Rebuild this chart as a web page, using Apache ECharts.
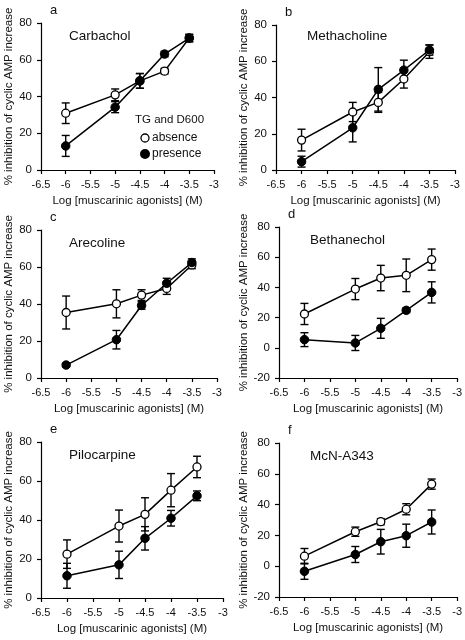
<!DOCTYPE html>
<html>
<head>
<meta charset="utf-8">
<script src="https://cdn.jsdelivr.net/npm/echarts@6/dist/echarts.min.js"></script>
<style>
html,body{margin:0;padding:0;background:#fff;}
#c{width:465px;height:640px;}
</style>
</head>
<body>
<div id="c"></div>
<script>
// ---- Data ----
const doses = [-6, -5, -4.5, -4, -3.5];
const panelLetters = ['a', 'b', 'c', 'd', 'e', 'f'];
const drugNames = ['Carbachol', 'Methacholine', 'Arecoline', 'Bethanechol', 'Pilocarpine', 'McN-A343'];
const xTicks = [-6.5, -6, -5.5, -5, -4.5, -4, -3.5, -3];
const yMins = [0, 0, 0, -20, 0, -20];
const yMax = 80;

const absenceA = [30.9, 40.9, 48.5, 53.8, 71.8];
const absenceErrA = [5.6, 3.2, 4, 1.5, 2];
const presenceA = [13.1, 34.2, 48.5, 63.1, 71.8];
const presenceErrA = [5.7, 3, 4, 1.5, 2];

const absenceB = [16.5, 32, 37.3, 50.2, 65.3];
const absenceErrB = [6, 5.3, 5.5, 5, 3.7];
const presenceB = [4.6, 23.3, 44.5, 55.1, 66.2];
const presenceErrB = [3, 7.8, 12, 5.5, 2.8];

const absenceC = [35.4, 40.1, 44.8, 48.4, 61.1];
const absenceErrC = [8.9, 7.6, 2.9, 3.2, 2];
const presenceC = [7, 20.7, 39.2, 51.2, 62.4];
const presenceErrC = [1, 5, 2, 2.7, 2];

const absenceD = [22.4, 38.9, 46.2, 48, 58.4];
const absenceErrD = [7, 7, 8.4, 10.8, 7];
const presenceD = [5.4, 3.2, 12.9, 24.8, 36.7];
const presenceErrD = [4.6, 5, 6.6, 1.5, 7];

const absenceE = [22.5, 36.9, 42.9, 55.3, 67.2];
const absenceErrE = [7.3, 8.2, 8.5, 8.5, 5.5];
const presenceE = [11.4, 17, 30.6, 40.9, 52.4];
const presenceErrE = [6.4, 7, 6, 4, 2.5];

const absenceF = [6.5, 22.4, 28.9, 37, 53.3];
const absenceErrF = [5, 3, 2, 3.6, 3.3];
const presenceF = [-3.3, 7.6, 15.9, 19.8, 28.7];
const presenceErrF = [5.2, 5.2, 8, 7.5, 7.8];

const absenceAll = [absenceA, absenceB, absenceC, absenceD, absenceE, absenceF];
const absenceErrAll = [absenceErrA, absenceErrB, absenceErrC, absenceErrD, absenceErrE, absenceErrF];
const presenceAll = [presenceA, presenceB, presenceC, presenceD, presenceE, presenceF];
const presenceErrAll = [presenceErrA, presenceErrB, presenceErrC, presenceErrD, presenceErrE, presenceErrF];

// ---- Layout ----
const FONT = '"Liberation Sans", Arial, Helvetica, sans-serif';
const grids = [
  {left: 41, top: 23, width: 173, height: 147},
  {left: 276, top: 25, width: 179, height: 145},
  {left: 41, top: 230, width: 176, height: 148},
  {left: 279, top: 227, width: 179, height: 151},
  {left: 41, top: 442, width: 182, height: 156},
  {left: 279, top: 443, width: 179, height: 154}
];

const xAxes = [], yAxes = [], series = [], titles = [];

function errRender(params, api) {
  const x = api.value(0), lo = api.value(1), hi = api.value(2);
  const pLo = api.coord([x, lo]);
  const pHi = api.coord([x, hi]);
  const cap = 4;
  const st = {stroke: '#000', lineWidth: 1.4};
  return {
    type: 'group',
    children: [
      {type: 'line', shape: {x1: pLo[0], y1: pLo[1], x2: pHi[0], y2: pHi[1]}, style: st},
      {type: 'line', shape: {x1: pLo[0] - cap, y1: pLo[1], x2: pLo[0] + cap, y2: pLo[1]}, style: st},
      {type: 'line', shape: {x1: pHi[0] - cap, y1: pHi[1], x2: pHi[0] + cap, y2: pHi[1]}, style: st}
    ]
  };
}

grids.forEach((g, i) => {
  xAxes.push({
    type: 'value', gridIndex: i, min: -6.5, max: -3, interval: 0.5,
    name: 'Log [muscarinic agonists] (M)', nameLocation: 'middle', nameGap: 25,
    nameTextStyle: {fontFamily: FONT, fontSize: 11.5, color: '#111'},
    axisLine: {onZero: false, lineStyle: {color: '#000', width: 1.2}},
    axisTick: {show: true, length: 4, lineStyle: {color: '#000', width: 1.2}},
    axisLabel: {fontFamily: FONT, fontSize: 11, color: '#111', margin: 9,
      formatter: v => String(v)},
    splitLine: {show: false}
  });
  yAxes.push({
    type: 'value', gridIndex: i, min: yMins[i], max: yMax, interval: 20,
    name: '% inhibition of cyclic AMP increase', nameLocation: 'middle', nameGap: 21,
    nameTextStyle: {fontFamily: FONT, fontSize: 11.5, color: '#111'},
    axisLine: {show: true, lineStyle: {color: '#000', width: 1.2}},
    axisTick: {show: true, length: 4, lineStyle: {color: '#000', width: 1.2}},
    axisLabel: {fontFamily: FONT, fontSize: 11.5, color: '#111', margin: 9},
    splitLine: {show: false}
  });
  const errData = (vals, errs) => doses.map((d, k) => [d, vals[k] - errs[k], vals[k] + errs[k]]);
  series.push({
    type: 'custom', xAxisIndex: i, yAxisIndex: i, renderItem: errRender, z: 1,
    data: errData(absenceAll[i], absenceErrAll[i]), silent: true
  });
  series.push({
    type: 'custom', xAxisIndex: i, yAxisIndex: i, renderItem: errRender, z: 1,
    data: errData(presenceAll[i], presenceErrAll[i]), silent: true
  });
  series.push({
    name: 'absence', type: 'line', xAxisIndex: i, yAxisIndex: i, z: 3,
    data: doses.map((d, k) => [d, absenceAll[i][k]]),
    symbol: 'circle', symbolSize: 8,
    lineStyle: {color: '#000', width: 1.5},
    itemStyle: {color: '#fff', borderColor: '#000', borderWidth: 1.3},
    animation: false
  });
  series.push({
    name: 'presence', type: 'line', xAxisIndex: i, yAxisIndex: i, z: 4,
    data: doses.map((d, k) => [d, presenceAll[i][k]]),
    symbol: 'circle', symbolSize: 8.5,
    lineStyle: {color: '#000', width: 1.5},
    itemStyle: {color: '#000', borderColor: '#000', borderWidth: 1},
    animation: false
  });
  titles.push({
    text: panelLetters[i], left: g.left + 4, top: g.top - 24,
    textStyle: {fontFamily: FONT, fontSize: 13, fontWeight: 'normal', color: '#111'}
  });
  titles.push({
    text: drugNames[i], left: g.left + (i % 2 === 0 ? 23 : 26), top: g.top + (i === 1 ? -1 : 1),
    textStyle: {fontFamily: FONT, fontSize: 13.5, fontWeight: 'normal', color: '#111'}
  });
});

titles.push({
  text: 'TG and D600', left: 130, top: 109,
  textStyle: {fontFamily: FONT, fontSize: 11.5, fontWeight: 'normal', color: '#111'}
});

const chart = echarts.init(document.getElementById('c'), null, {renderer: 'canvas'});
chart.setOption({
  animation: false,
  backgroundColor: '#fff',
  title: titles,
  grid: grids,
  xAxis: xAxes,
  yAxis: yAxes,
  legend: {
    orient: 'vertical', left: 135, top: 127, itemGap: 4,
    itemWidth: 8, itemHeight: 8,
    textStyle: {fontFamily: FONT, fontSize: 12, color: '#111', padding: [0, 0, 0, -2]},
    data: [
      {name: 'absence', icon: 'circle', itemStyle: {color: '#fff', borderColor: '#000', borderWidth: 1.3}},
      {name: 'presence', icon: 'circle', itemStyle: {color: '#000'}}
    ]
  },
  series: series
});
</script>
</body>
</html>
